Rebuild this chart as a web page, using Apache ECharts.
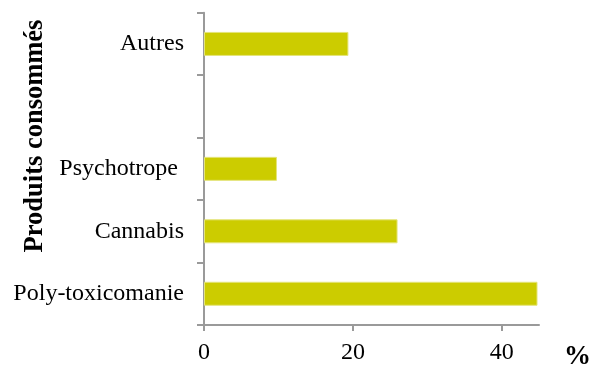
<!DOCTYPE html>
<html>
<head>
<meta charset="utf-8">
<script src="https://cdn.jsdelivr.net/npm/echarts@6/dist/echarts.min.js"></script>
<style>html,body{margin:0;padding:0;background:#fff}#c{width:606px;height:369px}</style>
</head>
<body>
<div id="c"></div>
<script>
const categories = ['Poly-toxicomanie', 'Cannabis', 'Psychotrope ', '', 'Autres'];
const values = [44.8, 26.0, 9.8, null, 19.4];
const xTicks = [0, 20, 40];
const yTitle = 'Produits consommés';
const xTitle = '%';

const FONT = "'Liberation Serif', 'Times New Roman', serif";
const chart = echarts.init(document.getElementById('c'), null, {renderer: 'canvas'});
chart.setOption({
  animation: false,
  backgroundColor: '#ffffff',
  grid: {left: 204, right: 67, top: 12.7, bottom: 44, containLabel: false},
  xAxis: {
    type: 'value', min: 0, max: 45,
    splitLine: {show: false},
    axisLine: {show: true, lineStyle: {color: '#9a9a9a', width: 2}},
    axisTick: {show: true, length: 6, lineStyle: {color: '#9a9a9a', width: 2}, customValues: xTicks},
    axisLabel: {customValues: xTicks, color: '#000', fontFamily: FONT, fontSize: 24, margin: 16}
  },
  yAxis: {
    type: 'category', data: categories,
    axisLine: {show: true, lineStyle: {color: '#9a9a9a', width: 2}},
    axisTick: {show: true, length: 7, inside: false, lineStyle: {color: '#9a9a9a', width: 2}},
    axisLabel: {color: '#000', fontFamily: FONT, fontSize: 24, margin: 20}
  },
  series: [{
    type: 'bar', data: values, barWidth: 24,
    itemStyle: {color: '#cccc00', borderColor: '#e4e47a', borderWidth: 1}
  }],
  graphic: [
    {type: 'text', x: 35, y: 136, rotation: Math.PI / 2,
     style: {text: yTitle, font: 'bold 26.5px ' + FONT, fill: '#000', align: 'center', verticalAlign: 'middle'}},
    {type: 'text', x: 577.5, y: 357,
     style: {text: xTitle, font: 'bold 27px ' + FONT, fill: '#000', align: 'center', verticalAlign: 'middle'}}
  ]
});
</script>
</body>
</html>
